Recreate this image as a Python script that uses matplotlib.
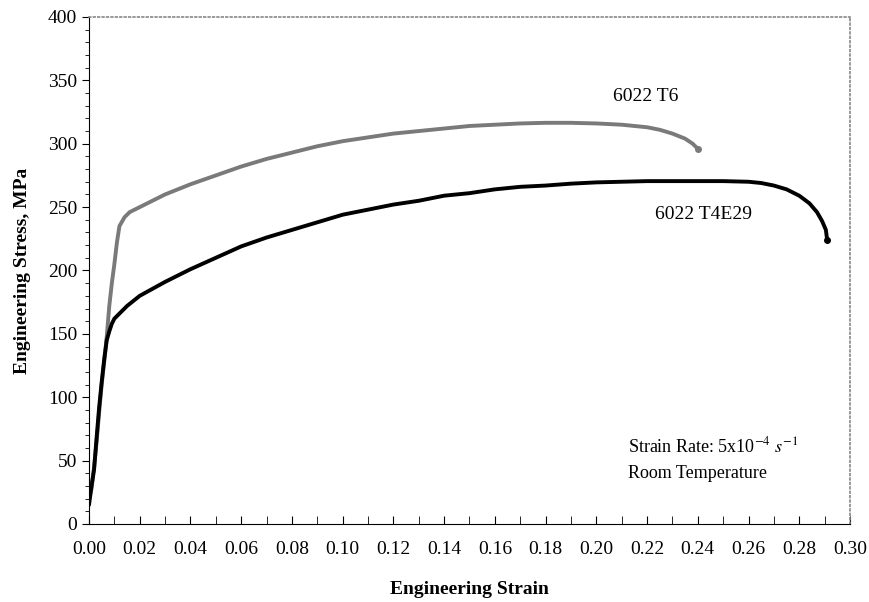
import numpy as np
import matplotlib.pyplot as plt
from matplotlib.ticker import MultipleLocator

plt.rcParams['font.family'] = ['Liberation Serif', 'DejaVu Serif']
plt.rcParams['mathtext.fontset'] = 'stix'

# 6022 T6 (gray curve)
t6_strain = [0.0, 0.001, 0.002, 0.003, 0.004, 0.005, 0.006, 0.007, 0.008, 0.009, 0.010,
             0.011, 0.012, 0.014, 0.016, 0.02, 0.03, 0.04, 0.05, 0.06, 0.07, 0.08,
             0.09, 0.10, 0.11, 0.12, 0.13, 0.14, 0.15, 0.16, 0.17, 0.18, 0.19, 0.20,
             0.21, 0.22, 0.225, 0.23, 0.235, 0.238, 0.240]
t6_stress = [20, 28, 45, 65, 88, 110, 128, 148, 172, 190, 205,
             222, 235, 242, 246, 250, 260, 268, 275, 282, 288, 293,
             298, 302, 305, 308, 310, 312, 314, 315, 316, 316.5, 316.5, 316,
             315, 313, 311, 308, 304, 300, 296]

# 6022 T4E29 (black curve)
t4_strain = [0.0, 0.001, 0.002, 0.003, 0.004, 0.005, 0.006, 0.007, 0.008, 0.009, 0.010,
             0.012, 0.015, 0.02, 0.03, 0.04, 0.05, 0.06, 0.07, 0.08, 0.09, 0.10,
             0.11, 0.12, 0.13, 0.14, 0.15, 0.16, 0.17, 0.18, 0.19, 0.20, 0.21, 0.22,
             0.23, 0.24, 0.25, 0.26, 0.265, 0.27, 0.275, 0.28, 0.284, 0.287, 0.289, 0.2905, 0.291]
t4_stress = [15, 30, 43, 68, 92, 112, 130, 145, 152, 158, 162,
             166, 172, 180, 191, 201, 210, 219, 226, 232, 238, 244,
             248, 252, 255, 259, 261, 264, 266, 267, 268.5, 269.5, 270, 270.5,
             270.5, 270.5, 270.5, 270, 269, 267, 264, 259, 253, 246, 239, 232, 224]

fig = plt.figure(figsize=(8.7, 6.02), dpi=100)
ax = fig.add_axes([0.1023, 0.1296, 0.8747, 0.8422])

ax.plot(t6_strain, t6_stress, color='#7a7a7a', lw=2.8, solid_capstyle='round')
ax.plot(t4_strain, t4_stress, color='black', lw=2.8, solid_capstyle='round')
ax.plot(t6_strain[-1], t6_stress[-1], 'o', color='#7a7a7a', ms=4)
ax.plot(t4_strain[-1], t4_stress[-1], 'o', color='black', ms=4)

ax.set_xlim(0, 0.30)
ax.set_ylim(0, 400)
ax.xaxis.set_major_locator(MultipleLocator(0.02))
ax.xaxis.set_minor_locator(MultipleLocator(0.01))
ax.yaxis.set_major_locator(MultipleLocator(50))
ax.yaxis.set_minor_locator(MultipleLocator(10))
ax.xaxis.set_major_formatter(plt.FormatStrFormatter('%.2f'))
ax.tick_params(axis='x', which='both', direction='in', length=6, labelsize=14, pad=12)
ax.tick_params(axis='y', which='major', direction='out', length=5, labelsize=14)
ax.tick_params(axis='y', which='minor', direction='out', length=3)
for s in ['top', 'right']:
    ax.spines[s].set_color('#888888')
    ax.spines[s].set_linestyle(':')
    ax.spines[s].set_linewidth(1.2)

ax.set_xlabel('Engineering Strain', fontsize=14, fontweight='bold', labelpad=17)
ax.set_ylabel('Engineering Stress, MPa', fontsize=14, fontweight='bold', labelpad=12)

ax.text(0.2065, 337, '6022 T6', fontsize=14, va='center')
ax.text(0.223, 244, '6022 T4E29', fontsize=14, va='center')
ax.text(0.2125, 61, r'Strain Rate: 5x10$^{-4}$ $s^{-1}$', fontsize=13, va='center')
ax.text(0.2125, 40, 'Room Temperature', fontsize=13, va='center')

fig.savefig('out.png', dpi=100)
